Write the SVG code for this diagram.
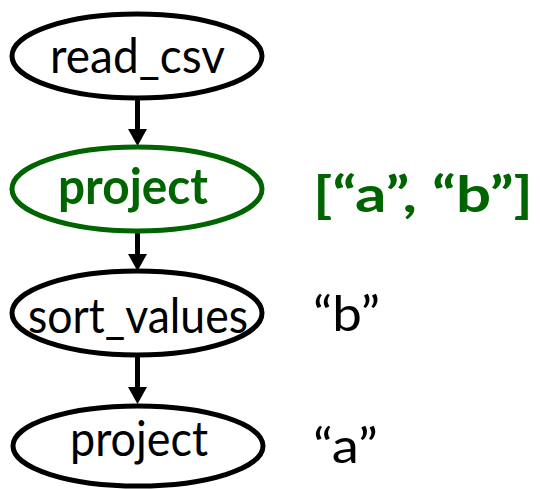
<svg xmlns="http://www.w3.org/2000/svg" width="540" height="489" viewBox="0 0 540 489">
  <style>
    .node { fill: #ffffff; stroke: #000000; stroke-width: 5; }
    .hl { stroke: #006400; }
    .lbl { font-family: Lato, "Noto Sans", "Liberation Sans", sans-serif; font-size: 49px; fill: #000000; text-anchor: middle; }
    .bold { font-weight: bold; fill: #006400; }
    .side { text-anchor: start; }
    .edge { stroke: #000000; stroke-width: 5; fill: none; }
    .head { fill: #000000; stroke: none; }
  </style>
  <rect width="540" height="489" fill="#ffffff"/>

  <g id="connectors">
    <line class="edge" x1="137.5" y1="98" x2="137.5" y2="131"/>
    <polygon class="head" points="128,129 147,129 137.5,146"/>
    <line class="edge" x1="137.5" y1="231" x2="137.5" y2="256"/>
    <polygon class="head" points="128,254 147,254 137.5,271"/>
    <line class="edge" x1="137.5" y1="355" x2="137.5" y2="389"/>
    <polygon class="head" points="128,387 147,387 137.5,404"/>
  </g>

  <g id="node-read_csv">
    <ellipse class="node" cx="137" cy="56" rx="125" ry="42"/>
    <text class="lbl" x="137.5" y="73" textLength="175" lengthAdjust="spacingAndGlyphs">read_csv</text>
  </g>

  <g id="node-project-1">
    <ellipse class="node hl" cx="137" cy="189" rx="125" ry="42"/>
    <text class="lbl bold" x="133" y="204" textLength="150" lengthAdjust="spacingAndGlyphs">project</text>
    <text class="lbl bold side" x="313" y="212" textLength="220" lengthAdjust="spacingAndGlyphs">[“a”, “b”]</text>
  </g>

  <g id="node-sort_values">
    <ellipse class="node" cx="137" cy="313" rx="125" ry="42"/>
    <text class="lbl" x="138" y="333" textLength="220" lengthAdjust="spacingAndGlyphs">sort_values</text>
    <text class="lbl side" x="313" y="331" textLength="67" lengthAdjust="spacingAndGlyphs">“b”</text>
  </g>

  <g id="node-project-2">
    <ellipse class="node" cx="138" cy="446" rx="125" ry="40"/>
    <text class="lbl" x="139" y="456" textLength="138" lengthAdjust="spacingAndGlyphs">project</text>
    <text class="lbl side" x="313" y="463" textLength="65" lengthAdjust="spacingAndGlyphs">“a”</text>
  </g>
</svg>
